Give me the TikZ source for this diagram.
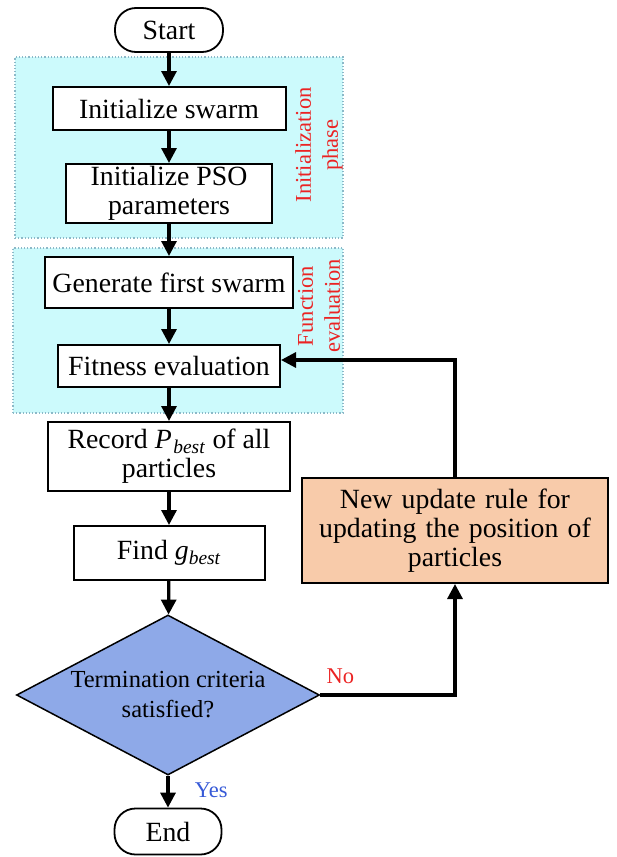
\documentclass[tikz,border=0pt]{standalone}
\usepackage{fontspec}
\setmainfont{Liberation Serif}
\usepackage{tikz}
\usetikzlibrary{shapes.geometric,arrows.meta,positioning,calc}
\definecolor{phaseCyan}{RGB}{204,250,252}
\definecolor{phaseEdge}{RGB}{140,185,200}
\definecolor{decisionBlue}{RGB}{142,169,232}
\definecolor{updateOrange}{RGB}{248,203,170}
\definecolor{labelRed}{RGB}{235,35,35}
\definecolor{labelBlue}{RGB}{55,90,215}

\begin{document}
\begin{tikzpicture}[x=1pt, y=-1pt,
    every node/.style={font=\fontsize{27.8}{29}\selectfont},
    box/.style={draw, line width=2pt, fill=white, inner sep=0pt, align=center},
    terminal/.style={draw, line width=1.8pt, fill=white, rounded corners=21pt, inner sep=0pt},
    decision/.style={draw, line width=1.5pt, fill=decisionBlue, diamond, aspect=1.9, inner sep=0pt,
      align=center, font=\fontsize{24.5}{30}\selectfont},
    phasebox/.style={draw=phaseEdge, dotted, line width=1.2pt, fill=phaseCyan, inner sep=0pt},
    phaselabel/.style={text=labelRed, rotate=90, align=center, font=\fontsize{22.5}{27}\selectfont},
    flowlabel/.style={font=\fontsize{22.5}{27}\selectfont},
    flow/.style={-{Triangle[length=15pt,width=15pt]}, line width=3.2pt}]
  \useasboundingbox (0,0) rectangle (616,857);
  % Phase backgrounds
  \node[phasebox, minimum width=328pt, minimum height=181pt] (initphase) at (179,147.5) {};
  \node[phasebox, minimum width=330pt, minimum height=165pt] (evalphase) at (178,330.5) {};
  \node[phaselabel] (initlabel) at (319,145) {Initialization\\phase};
  \node[phaselabel] (evallabel) at (319,306) {Function\\evaluation};
  % Main column
  \node[terminal, minimum width=108pt, minimum height=44pt] (start) at (169,30) {Start};
  \node[box, minimum width=233pt, minimum height=43pt] (swarm) at (169,108.5) {Initialize swarm};
  \node[box, minimum width=206pt, minimum height=59pt] (pso) at (169,193.5) {Initialize PSO\\parameters};
  \node[box, minimum width=248pt, minimum height=51pt] (first) at (169,282.5) {Generate first swarm};
  \node[box, minimum width=222pt, minimum height=42pt] (fit) at (169,366) {Fitness evaluation};
  \node[box, minimum width=242pt, minimum height=69pt] (pbest) at (169,456.5) {Record \textit{P}\kern1.5pt\textsubscript{\textit{best}} of all\\particles};
  \node[box, minimum width=191pt, minimum height=54pt] (gbest) at (169,553) {Find \textit{g}\textsubscript{\textit{best}}};
  \node[decision, minimum width=303pt, minimum height=160pt] (stop) at (168,695) {Termination criteria\\satisfied?};
  \node[terminal, minimum width=107pt, minimum height=46pt] (end) at (168,831.5) {End};
  % Update rule
  \node[box, fill=updateOrange, minimum width=306pt, minimum height=105pt, text width=300pt] (update) at (455,530.5) {New update rule for\\updating the position of\\particles};
  % Connectors
  \draw[flow] (start) -- (swarm);
  \draw[flow] (swarm) -- (pso);
  \draw[flow] (pso) -- (first);
  \draw[flow] (first) -- (fit);
  \draw[flow] (fit) -- (pbest);
  \draw[flow] (pbest) -- (gbest);
  \draw[flow] (gbest) -- (stop);
  \draw[flow] (stop) -- (end) node[flowlabel, pos=0.45, right=22pt, text=labelBlue] {Yes};
  \draw[flow] (stop.east) -| (update.south) node[flowlabel, pos=0.075, above=6pt, text=labelRed] {No};
  \draw[flow] (update.north) |- ($(fit.east)+(0,-6)$);
\end{tikzpicture}
\end{document}
